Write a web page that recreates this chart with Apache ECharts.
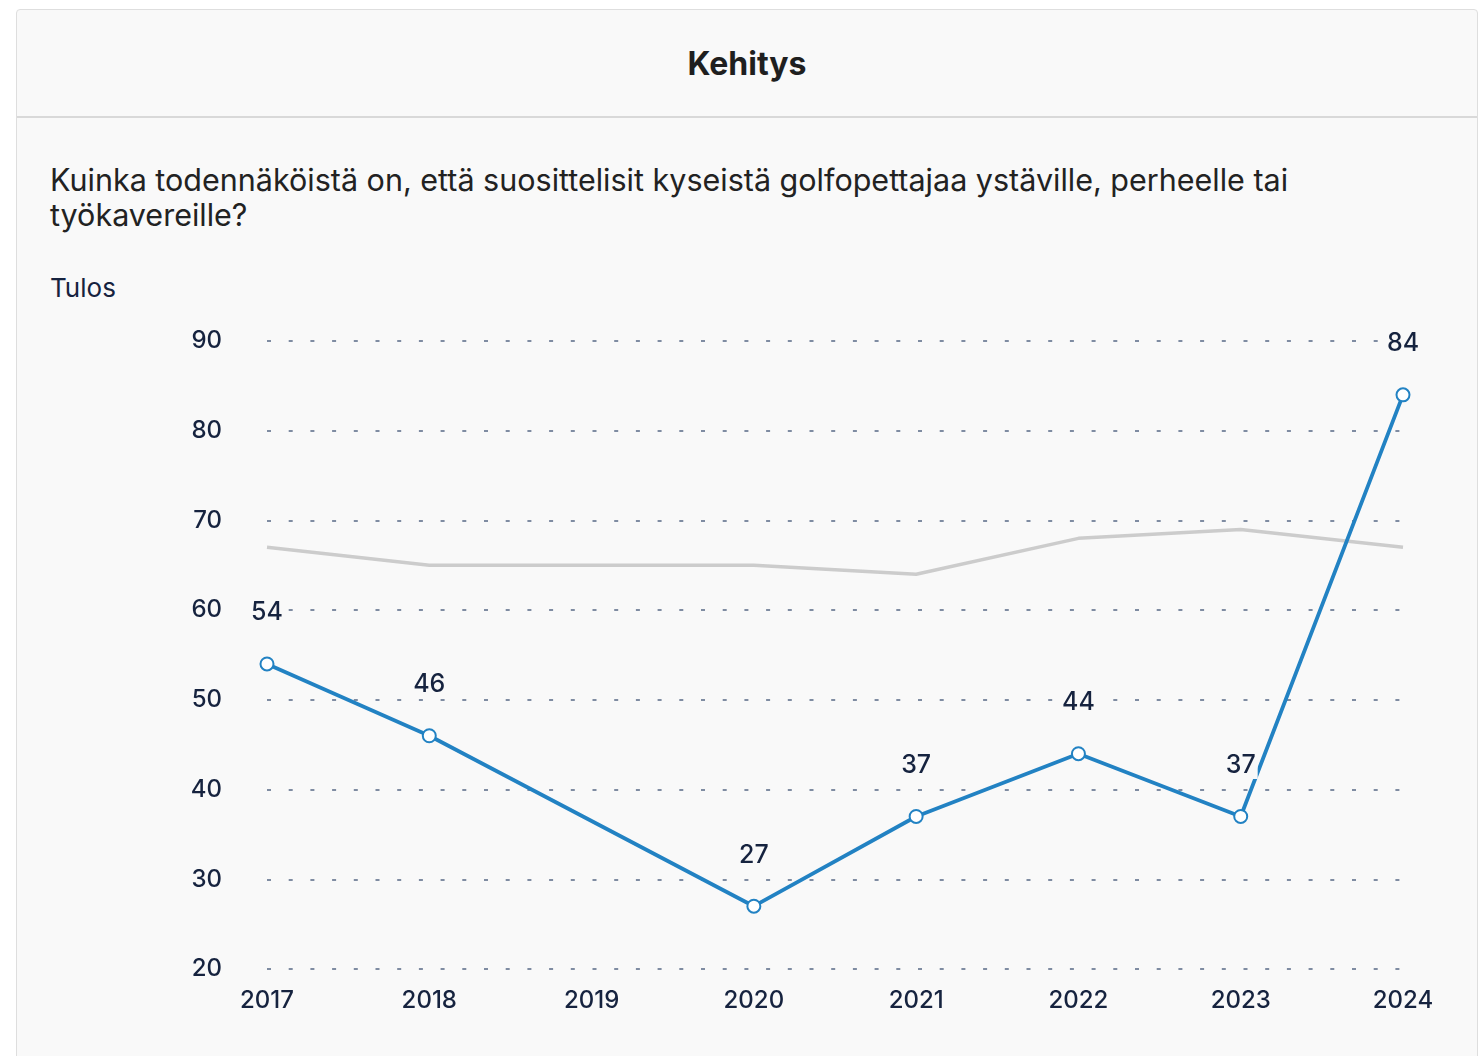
<!DOCTYPE html>
<html>
<head>
<meta charset="utf-8">
<script src="https://cdn.jsdelivr.net/npm/echarts@6/dist/echarts.min.js"></script>
<style>
  html, body { margin: 0; padding: 0; background: #ffffff; width: 1481px; height: 1056px; overflow: hidden; font-family: Inter, "Noto Sans", sans-serif; }
  #card { position: absolute; left: 16px; top: 9px; width: 1462px; height: 1100px; background: #f9f9f9; border: 1px solid #dedede; border-radius: 4px; box-sizing: border-box; }
  #head { position: absolute; left: 0; top: 0; width: 100%; height: 108px; border-bottom: 2px solid #d9d9d9; box-sizing: border-box; }
  #title { position: absolute; left: 0; width: 100%; top: 34px; text-align: center; font-size: 32px; font-weight: 700; color: #1f1f1f; }
  #question { position: absolute; left: 33px; top: 152px; width: 1300px; font-size: 30.5px; line-height: 35px; color: #222; }
  #unit { position: absolute; left: 33px; top: 262px; font-size: 26px; color: #16233f; }
  #chart { position: absolute; left: 0; top: 0; width: 1481px; height: 1056px; }
</style>
</head>
<body>
<div id="card">
  <div id="head"><div id="title">Kehitys</div></div>
  <div id="question">Kuinka todennäköistä on, että suosittelisit kyseistä golfopettajaa ystäville, perheelle tai työkavereille?</div>
  <div id="unit">Tulos</div>
</div>
<div id="chart"></div>
<script>
const years = ['2017', '2018', '2019', '2020', '2021', '2022', '2023', '2024'];
const resultValues = [54, 46, null, 27, 37, 44, 37, 84];
const benchmarkValues = [67, 65, 65, 65, 64, 68, 69, 67];
const yTicks = { min: 20, max: 90, interval: 10 };

const chart = echarts.init(document.getElementById('chart'), null, { renderer: 'canvas' });
const textColor = '#16233f';
chart.setOption({
  animation: false,
  backgroundColor: 'transparent',
  grid: { left: 267, right: 78, top: 341, bottom: 87, containLabel: false },
  xAxis: {
    type: 'category',
    data: years,
    boundaryGap: false,
    axisLine: { show: false },
    axisTick: { show: false },
    axisLabel: { color: textColor, fontSize: 24, fontFamily: 'Inter', fontWeight: 500, margin: 20 },
    splitLine: { show: false }
  },
  yAxis: {
    type: 'value',
    min: yTicks.min, max: yTicks.max, interval: yTicks.interval,
    axisLine: { show: false },
    axisTick: { show: false },
    axisLabel: { color: textColor, fontSize: 24, fontFamily: 'Inter', fontWeight: 500, margin: 45 },
    splitLine: { show: true, lineStyle: { color: '#7f8ca2', width: 2, type: [4, 17.7] } }
  },
  series: [
    {
      name: 'Vertailu',
      type: 'line',
      data: benchmarkValues,
      symbol: 'none',
      lineStyle: { color: '#cccccc', width: 3.5 },
      z: 2
    },
    {
      name: 'Tulos',
      type: 'line',
      data: resultValues,
      connectNulls: true,
      symbol: 'circle',
      symbolSize: 13,
      itemStyle: { color: '#ffffff', borderColor: '#2282c3', borderWidth: 2 },
      lineStyle: { color: '#2282c3', width: 3.8 },
      label: {
        show: true,
        position: 'top',
        distance: 30,
        color: textColor,
        fontSize: 25,
        fontFamily: 'Inter',
        fontWeight: 500,
        backgroundColor: '#f9f9f9',
        padding: [1, 2]
      },
      z: 3
    }
  ]
});
</script>
</body>
</html>
